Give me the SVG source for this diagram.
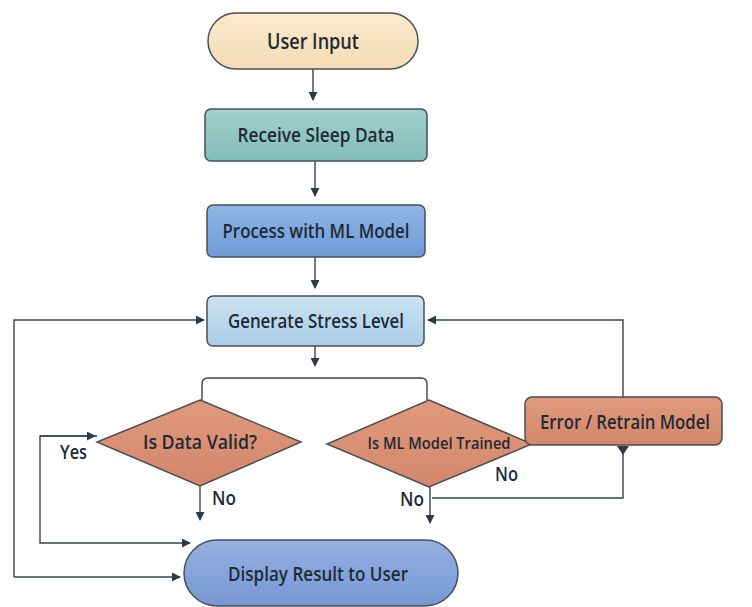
<svg xmlns="http://www.w3.org/2000/svg" width="752" height="607" viewBox="0 0 752 607">
<defs>
<linearGradient id="gPeach" x1="0" y1="0" x2="0" y2="1"><stop offset="0" stop-color="#fbeacd"/><stop offset="1" stop-color="#f4dcb5"/></linearGradient>
<linearGradient id="gTeal" x1="0" y1="0" x2="0" y2="1"><stop offset="0" stop-color="#a3d0cc"/><stop offset="1" stop-color="#82bcb7"/></linearGradient>
<linearGradient id="gBlue" x1="0" y1="0" x2="0" y2="1"><stop offset="0" stop-color="#8fb6e6"/><stop offset="1" stop-color="#6f9bd6"/></linearGradient>
<linearGradient id="gLight" x1="0" y1="0" x2="0" y2="1"><stop offset="0" stop-color="#cbe2f2"/><stop offset="1" stop-color="#a9cde8"/></linearGradient>
<linearGradient id="gOrange" x1="0" y1="0" x2="0" y2="1"><stop offset="0" stop-color="#e09a7c"/><stop offset="1" stop-color="#d3866a"/></linearGradient>
<linearGradient id="gDisp" x1="0" y1="0" x2="0" y2="1"><stop offset="0" stop-color="#94b1e0"/><stop offset="1" stop-color="#7797d3"/></linearGradient>
<marker id="arr" viewBox="0 0 10 10" refX="9" refY="5" markerWidth="9" markerHeight="9" markerUnits="userSpaceOnUse" orient="auto">
<path d="M0,0 L10,5 L0,10 z" fill="#2f3a45"/>
</marker>
<style>
.box{stroke:#4a4f55;stroke-width:1.5}
.lbl{font-family:"Open Sans","Liberation Sans",sans-serif;fill:#1f2a36;text-anchor:middle;font-weight:600}
.c{fill:none;stroke:#3a444e;stroke-width:1.4}
.t{font-family:"Open Sans","Liberation Sans",sans-serif;fill:#1f2a36;font-size:19px;font-weight:600}
</style>
</defs>
<rect width="752" height="607" fill="#ffffff"/>
<g id="connectors">
<path class="c" d="M313,69 V100" marker-end="url(#arr)"/>
<path class="c" d="M315,161 V196" marker-end="url(#arr)"/>
<path class="c" d="M315,257 V288" marker-end="url(#arr)"/>
<path class="c" d="M315,346 V366" marker-end="url(#arr)"/>
<path class="c" d="M202,400 V384 Q202,378 208,378 H421 Q427,378 427,384 V400"/>
<path class="c" d="M14,577 V320 H204" marker-end="url(#arr)"/>
<path class="c" d="M14,577 H180" marker-end="url(#arr)"/>
<path class="c" d="M97,436 H40 V543 H190" marker-end="url(#arr)"/>
<path class="c" d="M40,436 L95,436" marker-end="url(#arr)"/>
<path class="c" d="M200,486 V520" marker-end="url(#arr)"/>
<path class="c" d="M430,487 V523" marker-end="url(#arr)"/>
<path class="c" d="M432,498 H623 V447"/>
<path d="M617,446 L629,446 L623,455 z" fill="#2f3a45"/>
<path class="c" d="M623,397 V320 H428" marker-end="url(#arr)"/>
</g>
<g id="user-input">
<rect class="box" x="208" y="13" width="210" height="56" rx="28" fill="url(#gPeach)"/>
<text class="lbl" x="313" y="49" font-size="21" font-weight="700" textLength="92" lengthAdjust="spacingAndGlyphs">User Input</text>
</g>
<g id="receive">
<rect class="box" x="205" y="109" width="222" height="52" rx="6" fill="url(#gTeal)"/>
<text class="lbl" x="316" y="142" font-size="20" textLength="157" lengthAdjust="spacingAndGlyphs">Receive Sleep Data</text>
</g>
<g id="process">
<rect class="box" x="207" y="205" width="218" height="52" rx="6" fill="url(#gBlue)"/>
<text class="lbl" x="316" y="238" font-size="20" textLength="187" lengthAdjust="spacingAndGlyphs">Process with ML Model</text>
</g>
<g id="generate">
<rect class="box" x="207" y="296" width="217" height="50" rx="6" fill="url(#gLight)"/>
<text class="lbl" x="316" y="328" font-size="20" textLength="176" lengthAdjust="spacingAndGlyphs">Generate Stress Level</text>
</g>
<g id="data-valid">
<polygon class="box" points="200,400 301,442 200,486 97,442" fill="url(#gOrange)"/>
<text class="lbl" x="200" y="449" font-size="20" textLength="114" lengthAdjust="spacingAndGlyphs">Is Data Valid?</text>
</g>
<g id="model-trained">
<polygon class="box" points="429,400 532,444 429,487 327,444" fill="url(#gOrange)"/>
<text class="lbl" x="439" y="449" font-size="17" textLength="143" lengthAdjust="spacingAndGlyphs">Is ML Model Trained</text>
</g>
<g id="error-retrain">
<rect class="box" x="525" y="397" width="197" height="48" rx="7" fill="url(#gOrange)"/>
<text class="lbl" x="625" y="429" font-size="20" textLength="170" lengthAdjust="spacingAndGlyphs">Error / Retrain Model</text>
</g>
<g id="display">
<rect class="box" x="184" y="540" width="274" height="66" rx="33" fill="url(#gDisp)"/>
<text class="lbl" x="318" y="581" font-size="20" textLength="180" lengthAdjust="spacingAndGlyphs">Display Result to User</text>
</g>
<g id="labels">
<text class="t" x="60" y="459" textLength="27" lengthAdjust="spacingAndGlyphs">Yes</text>
<text class="t" x="212" y="505" textLength="24" lengthAdjust="spacingAndGlyphs">No</text>
<text class="t" x="400" y="506" textLength="24" lengthAdjust="spacingAndGlyphs">No</text>
<text class="t" x="495" y="481" textLength="23" lengthAdjust="spacingAndGlyphs">No</text>
</g>
</svg>
